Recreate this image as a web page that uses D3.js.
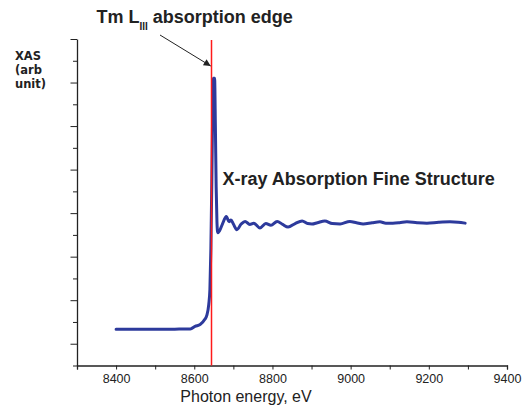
<!DOCTYPE html>
<html><head><meta charset="utf-8">
<script src="https://cdn.jsdelivr.net/npm/d3@7"></script>
<style>body{margin:0;background:#fff}svg{display:block}</style>
</head><body><div id="chart"></div>
<script>
// Data (photon energy in eV, XAS in arbitrary units)
const energy = [8400,8450,8500,8550,8580,8590,8602,8615,8627,8632,8637,8640,8642.5,8645,8647,8649,8652,8654,8656,8658,8660,
  8665,8672,8682,8689,8694,8700,8709,8720,8730,8742,8752,8768,8783,8796,8812,8826,8840,8858,8876,8890,8901,8915,8934,8953,
  8973,8998,9015,9032,9055,9075,9090,9108,9125,9144,9170,9195,9225,9254,9275,9293];
const xas = [0.33,0.33,0.33,0.335,0.34,0.34,0.40,0.44,0.56,0.65,0.9,1.25,2.2,3.8,5.3,6.1,6.1,5.0,3.6,2.8,2.55,
  2.6,2.75,2.92,2.8,2.84,2.75,2.62,2.75,2.81,2.74,2.77,2.66,2.76,2.72,2.81,2.74,2.68,2.76,2.82,2.76,2.75,2.78,2.82,2.76,
  2.75,2.81,2.78,2.75,2.78,2.80,2.77,2.77,2.78,2.80,2.78,2.77,2.79,2.80,2.79,2.77];
const edgeEnergy = 8644;
const xTicks = [8300,8400,8500,8600,8700,8800,8900,9000,9100,9200,9300,9400];
const xTickLabels = ["8400","8600","8800","9000","9200","9400"];
const yTicks = [-0.5,0,0.5,1,1.5,2,2.5,3,3.5,4,4.5,5,5.5,6,6.5,7];
const texts = {
  title1: "Tm L", titleSub: "III", title2: " absorption edge",
  yLabel: ["XAS","(arb","unit)"],
  xLabel: "Photon energy, eV",
  fine: "X-ray Absorption Fine Structure"
};

const W = 530, H = 407;
const svg = d3.select("#chart").append("svg").attr("width", W).attr("height", H);
const x = d3.scaleLinear().domain([8300, 9400]).range([77, 507]);
const y = d3.scaleLinear().domain([-0.5, 7]).range([365.5, 39]);
const axisColor = "#222";

// X axis
const gx = svg.append("g").attr("transform", `translate(0,${y(-0.5)})`)
  .call(d3.axisBottom(x).tickValues(xTicks).tickSize(4).tickPadding(5)
    .tickFormat(d => xTickLabels.includes(String(d)) ? String(d) : ""));
gx.select(".domain").attr("stroke", axisColor).attr("stroke-width", 1.3);
gx.selectAll(".tick line").attr("stroke", axisColor).attr("stroke-width", 1);
gx.selectAll(".tick text").attr("fill", "#222").attr("font-family", "Liberation Sans, Arial, sans-serif").attr("font-size", 12.5);

// Y axis
const gy = svg.append("g").attr("transform", `translate(${x(8300)},0)`)
  .call(d3.axisLeft(y).tickValues(yTicks).tickSizeOuter(0).tickFormat(""));
gy.select(".domain").attr("stroke", axisColor).attr("stroke-width", 1.3);
gy.selectAll(".tick line").attr("stroke", axisColor).attr("stroke-width", 1)
  .attr("x2", d => (Math.round(d) === d ? -6.5 : -4));

// Curve
const line = d3.line().x((d,i) => x(energy[i])).y(d => y(d)).curve(d3.curveMonotoneX);
svg.append("path").datum(xas).attr("d", line).attr("fill", "none")
  .attr("stroke", "#2d3a9c").attr("stroke-width", 3).attr("stroke-linejoin", "round").attr("stroke-linecap", "round");

// Edge line (drawn over the curve)
const ex = Math.round(x(edgeEnergy)) + 0.5;
svg.append("line").attr("x1", ex).attr("x2", ex)
  .attr("y1", 40).attr("y2", y(-0.5)).attr("stroke", "#ff1a1a").attr("stroke-width", 1.5);

// Arrow
svg.append("defs").append("marker").attr("id", "ah").attr("viewBox", "0 0 10 10")
  .attr("refX", 10).attr("refY", 5).attr("markerWidth", 9).attr("markerHeight", 7)
  .attr("markerUnits", "userSpaceOnUse").attr("orient", "auto")
  .append("path").attr("d", "M0,0 L10,5 L0,10 z").attr("fill", "#222");
svg.append("line").attr("x1", 160).attr("y1", 35).attr("x2", ex - 0.8).attr("y2", 66)
  .attr("stroke", "#222").attr("stroke-width", 1).attr("marker-end", "url(#ah)");

// Title
const t = svg.append("text").attr("x", 96.5).attr("y", 22.5)
  .attr("font-family", "Liberation Sans, Arial, sans-serif").attr("font-weight", "bold")
  .attr("font-size", 18).attr("fill", "#222");
t.append("tspan").text(texts.title1);
t.append("tspan").attr("font-size", 10).attr("dy", 7).text(texts.titleSub);
t.append("tspan").attr("dy", -7).text(texts.title2);

// Y label
svg.append("text").attr("font-family", "DejaVu Sans, Verdana, sans-serif").attr("font-weight", "bold")
  .attr("font-size", 11.5).attr("fill", "#222")
  .selectAll("tspan").data(texts.yLabel).join("tspan")
  .attr("x", 15).attr("y", (d,i) => 60 + i * 14).text(d => d);

// X label
svg.append("text").attr("x", 246).attr("y", 402).attr("text-anchor", "middle")
  .attr("font-family", "Liberation Sans, Arial, sans-serif").attr("font-size", 16).attr("fill", "#222")
  .text(texts.xLabel);

// Fine structure annotation
svg.append("text").attr("x", 222.5).attr("y", 185)
  .attr("font-family", "Liberation Sans, Arial, sans-serif").attr("font-weight", "bold")
  .attr("font-size", 18).attr("fill", "#222").text(texts.fine);
</script></body></html>
